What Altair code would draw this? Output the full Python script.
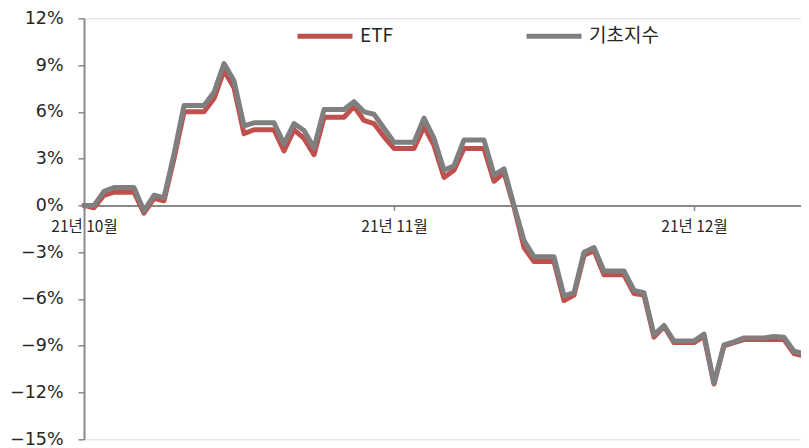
import altair as alt
import pandas as pd

# Daily dates (Oct 1 2021 .. Dec 12 2021)
dates = [d.strftime("%Y-%m-%d") for d in pd.date_range("2021-10-01", "2021-12-12", freq="D")]

etf = [0, -0.15, 0.65, 0.85, 0.85, 0.85, -0.5, 0.45, 0.3, 3.0,
       6.0, 6.0, 6.0, 6.85, 8.65, 7.55, 4.6, 4.85, 4.85, 4.85,
       3.5, 4.85, 4.3, 3.25, 5.65, 5.65, 5.65, 6.35, 5.45, 5.25,
       4.4, 3.65, 3.65, 3.65, 5.05, 3.85, 1.8, 2.25, 3.65, 3.65,
       3.65, 1.55, 2.1, -0.1, -2.7, -3.6, -3.6, -3.6, -6.1, -5.75,
       -3.2, -2.9, -4.45, -4.45, -4.45, -5.65, -5.75, -8.45, -7.75, -8.8,
       -8.8, -8.8, -8.4, -11.45, -9.0, -8.8, -8.6, -8.6, -8.6, -8.6,
       -8.6, -9.5, -9.65]

index = [0, 0, 0.9, 1.15, 1.15, 1.15, -0.35, 0.65, 0.5, 3.3,
         6.4, 6.4, 6.4, 7.25, 9.1, 8.0, 5.1, 5.3, 5.3, 5.3,
         3.95, 5.25, 4.8, 3.7, 6.15, 6.15, 6.15, 6.65, 6.0, 5.85,
         4.95, 4.05, 4.05, 4.05, 5.6, 4.3, 2.25, 2.55, 4.2, 4.2,
         4.2, 1.95, 2.35, 0, -2.25, -3.3, -3.3, -3.3, -5.8, -5.6,
         -3.0, -2.7, -4.2, -4.2, -4.2, -5.45, -5.6, -8.3, -7.7, -8.7,
         -8.7, -8.7, -8.25, -11.4, -8.95, -8.75, -8.5, -8.5, -8.5, -8.4,
         -8.45, -9.35, -9.5]

series_names = ["ETF", "기초지수"]
series_colors = ["#C0504D", "#7F7F7F"]

tick_days = [0, 31, 61]
tick_labels = ["21년 10월", "21년 11월", "21년 12월"]
y_ticks = [-15, -12, -9, -6, -3, 0, 3, 6, 9, 12]

start = pd.Timestamp(dates[0])
day_idx = [(pd.Timestamp(d) - start).days for d in dates]

rows = []
for name, vals in zip(series_names, [etf, index]):
    for d, di, v in zip(dates, day_idx, vals):
        rows.append({"date": d, "day": di, "value": v, "series": name})
df = pd.DataFrame(rows)

W, H = 722, 421
zero_offset = -H * 15 / 27.0

label_expr = "[" + ",".join("'%s'" % t for t in tick_labels) + "][indexof([" + \
    ",".join(str(t) for t in tick_days) + "], datum.value)]"

x_enc = alt.X(
    "day:Q",
    scale=alt.Scale(domain=[0, 72.2], nice=False, zero=False),
    axis=alt.Axis(
        values=tick_days, labelExpr=label_expr, title=None, orient="bottom",
        offset=zero_offset, grid=False, domainColor="#898989", domainWidth=2,
        tickColor="#898989", tickWidth=1.5, tickSize=5, labelPadding=9,
        labelFont="Noto Sans CJK KR", labelFontSize=15.5, labelColor="#262626",
        labelAlign="center",
    ),
)
y_enc = alt.Y(
    "value:Q",
    scale=alt.Scale(domain=[-15, 12], nice=False, zero=False),
    axis=alt.Axis(
        values=y_ticks, format="d", labelExpr="datum.label + '%'", title=None,
        grid=False, domainColor="#898989", domainWidth=2, tickColor="#898989",
        tickWidth=1.5, tickSize=6, labelPadding=15, labelFont="DejaVu Sans",
        labelFontSize=17.5, labelColor="#262626",
    ),
)
color_enc = alt.Color(
    "series:N",
    scale=alt.Scale(domain=series_names, range=series_colors),
    legend=alt.Legend(
        title=None, orient="none", legendX=211, legendY=-12, direction="horizontal",
        symbolType="stroke", symbolSize=3025, symbolStrokeWidth=5,
        labelFont="Noto Sans CJK KR", labelFontSize=19, labelColor="#262626",
        labelOffset=5, columnPadding=122,
    ),
)

base = alt.Chart(df)
layers = []
for name in series_names:
    layers.append(
        base.transform_filter(alt.datum.series == name)
        .mark_line(strokeWidth=5, strokeJoin="round", strokeCap="round")
        .encode(x=x_enc, y=y_enc, color=color_enc)
    )

chart = alt.layer(*layers).properties(
    width=W, height=H,
    autosize=alt.AutoSizeParams(type="none"),
    padding={"left": 76, "top": 10.3, "right": -5, "bottom": 9},
).configure_view(stroke=None).configure(background="white")

chart.save("out.html", embed_options={"renderer": "svg", "actions": False})
